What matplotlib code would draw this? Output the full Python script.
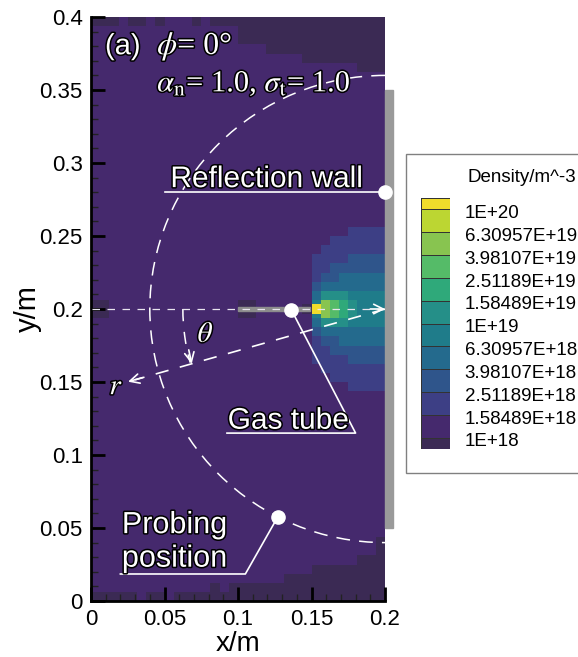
import numpy as np
import matplotlib
matplotlib.use('Agg')
import matplotlib.pyplot as plt
import matplotlib.patheffects as pe
from matplotlib.colors import ListedColormap, BoundaryNorm
from matplotlib.patches import Arc, Rectangle

plt.rcParams['font.family'] = ['Liberation Sans', 'DejaVu Sans']
plt.rcParams['mathtext.fontset'] = 'stix'

# density level of each cell, top row first (0 = lowest band, b = highest band)
density_rows = [
    "00010010111010000000000000000000",
    "11111111111111110000000000000000",
    "11111111111111110000000000000000",
    "11111111111111111110000000000000",
    "11111111111111111111111000000000",
    "11111111111111111111111111111000",
    *["11111111111111111111111111111111"] * 17,
    "11111111111111111111111111112222",
    "11111111111111111111111111222222",
    "11111111111111111111111112222222",
    "11111111111111111111111122223333",
    "11111111111111111111111122333333",
    "11111111111111111111111123344444",
    "11111111111111111111111134444444",
    "11111111111111111111111146665555",
    "00111111111111110011111159876555",
    "00111111111111110011111159876555",
    "11111111111111111111111146665555",
    "11111111111111111111111134444444",
    "11111111111111111111111123344444",
    "11111111111111111111111122333333",
    "11111111111111111111111122223333",
    "11111111111111111111111112222222",
    "11111111111111111111111111222222",
    "11111111111111111111111111112222",
    *["11111111111111111111111111111111"] * 16,
    "11111111111111111111111111111110",
    "11111111111111111111111111111110",
    "11111111111111111111111111111000",
    "11111111111111111111111100000000",
    "11111111111111111111100000000000",
    "11111111111110100000000000000000",
    "00000100100000000000000000000000",
]

# finer row at the tube exit, centred on y = 0.2
tube_row_x = [0.14375, 0.15, 0.15625]
tube_row_levels = [0, 11]

band_colors = ['#3b2a54', '#45296d', '#3d3f85', '#2f558b', '#246a8d', '#1f7c8a',
               '#258f88', '#2fa97a', '#55bb68', '#88c450', '#bcd632', '#f0dc2b']
legend_labels = ['1E+18', '1.58489E+18', '2.51189E+18', '3.98107E+18', '6.30957E+18', '1E+19',
                 '1.58489E+19', '2.51189E+19', '3.98107E+19', '6.30957E+19', '1E+20']

x_ticks = [0, 0.05, 0.1, 0.15, 0.2]
x_tick_labels = ['0', '0.05', '0.1', '0.15', '0.2']
y_ticks = [0, 0.05, 0.1, 0.15, 0.2, 0.25, 0.3, 0.35, 0.4]
y_tick_labels = ['0', '0.05', '0.1', '0.15', '0.2', '0.25', '0.3', '0.35', '0.4']

W, H = 578, 657
fig = plt.figure(figsize=(W / 100, H / 100), dpi=100)
ax = fig.add_axes([91 / W, 1 - 601 / H, 294 / W, 584 / H])

cmap = ListedColormap(band_colors)
norm = BoundaryNorm(np.arange(13) - 0.5, 12)

grid = np.array([[int(c, 16) for c in row] for row in density_rows[::-1]])
x_edges = np.linspace(0, 0.2, grid.shape[1] + 1)
y_edges = np.linspace(0, 0.4, grid.shape[0] + 1)
ax.pcolormesh(x_edges, y_edges, grid, cmap=cmap, norm=norm)
ax.pcolormesh(tube_row_x, [0.1969, 0.2031], [tube_row_levels], cmap=cmap, norm=norm)

ax.set_xlim(0, 0.2)
ax.set_ylim(0, 0.4)
ax.set_xticks(x_ticks, x_tick_labels, fontsize=16)
ax.set_yticks(y_ticks, y_tick_labels, fontsize=16)
ax.set_xticks(np.arange(0, 0.2001, 0.01), minor=True)
ax.set_yticks(np.arange(0, 0.4001, 0.01), minor=True)
ax.tick_params(which='major', direction='in', length=10, width=2, pad=6, color='black')
ax.tick_params(which='minor', direction='in', length=5, width=1, color='#222222')
ax.tick_params(axis='x', which='major', pad=6)
ax.set_xlabel('x/m', fontsize=20, labelpad=0.5)
ax.set_ylabel('y/m', fontsize=21, labelpad=-2)
for side in ['top', 'right']:
    ax.spines[side].set_visible(False)
for side in ['left', 'bottom']:
    ax.spines[side].set_linewidth(2)

# wall and tube
ax.add_patch(Rectangle((0.2, 0.05), 0.0054, 0.3, color='#9a9a9a', clip_on=False, zorder=3))
ax.add_patch(Rectangle((0.1, 0.1985), 0.049, 0.003, color='#8c8c8c', zorder=3))

white = 'white'
# dashed guides
ax.add_patch(Arc((0.2, 0.2), 0.32, 0.32, theta1=90, theta2=270, color=white, lw=1.1,
                 linestyle=(0, (9, 6)), zorder=4))
ax.add_patch(Arc((0.2, 0.2), 0.275, 0.275, theta1=180, theta2=195.5, color=white, lw=1.1,
                 linestyle=(0, (8, 7)), zorder=4))
ax.plot([0.001, 0.2], [0.2, 0.2], color='#e8e4ee', lw=0.9, linestyle=(0, (6, 6)), zorder=4)
ax.plot([0.2, 0.03], [0.2, 0.1515], color=white, lw=1.2, linestyle=(0, (8, 7)), zorder=4)

head = dict(arrowstyle='->', color=white, lw=1.2, mutation_scale=17, shrinkA=0, shrinkB=0)
ax.annotate('', xy=(0.2, 0.2), xytext=(0.19, 0.2), arrowprops=head, zorder=5)
ax.annotate('', xy=(0.0252, 0.1502), xytext=(0.035, 0.153), arrowprops=head, zorder=5)
ax.annotate('', xy=(0.0685, 0.1625), xytext=(0.0665, 0.172), arrowprops=head, zorder=5)

# callouts
ax.plot([0.05, 0.2], [0.28, 0.28], color=white, lw=1.2, zorder=5, clip_on=False)
ax.plot([0.0925, 0.18, 0.136], [0.115, 0.115, 0.2], color=white, lw=1.2, zorder=5)
ax.plot([0.02, 0.105, 0.127], [0.0185, 0.0185, 0.0575], color=white, lw=1.2, zorder=5)
ax.plot([0.2, 0.136, 0.127], [0.28, 0.1993, 0.0575], linestyle='none', marker='o', ms=9.5,
        color=white, zorder=6, clip_on=False)

outline = [pe.withStroke(linewidth=2.2, foreground='black')]


def label(x, y, text, size, **kw):
    ax.text(x, y, text, fontsize=size, color=white, path_effects=outline, zorder=7, **kw)


label(0.054, 0.2835, 'Reflection wall', 21.5)
label(0.093, 0.118, 'Gas tube', 21.5)
label(0.021, 0.0465, 'Probing', 22)
label(0.021, 0.0235, 'position', 22)
label(0.0095, 0.3745, '(a)', 21)
label(0.045, 0.3745, r'$\phi$= 0°', 23, family='Liberation Serif')
label(0.045, 0.349, r'$\alpha_{\rm n}$= 1.0, $\sigma_{\rm t}$= 1.0', 22, family='Liberation Serif')
label(0.0725, 0.1775, r'$\theta$', 21, family='Liberation Serif')
label(0.0125, 0.1415, r'$r$', 21, family='Liberation Serif')

# contour legend box, running off the right edge
fig.add_artist(Rectangle((406 / W, 1 - 473 / H), 200 / W, 319 / H, transform=fig.transFigure,
                         facecolor='white', edgecolor='#808080', lw=1, zorder=1))
bar = fig.add_axes([421 / W, 1 - 449 / H, 29 / W, 251 / H], zorder=2)
bar_edges = [0, 0.5, 1.5, 2.5, 3.5, 4.5, 5.5, 6.5, 7.5, 8.5, 9.5, 10.5, 11]
bar.pcolormesh([0, 1], bar_edges, np.arange(12).reshape(-1, 1), cmap=cmap, norm=norm,
               edgecolors='#333333', linewidth=0.4)
bar.set_xlim(0, 1)
bar.set_ylim(0, 11)
bar.set_xticks([])
bar.yaxis.tick_right()
bar.set_yticks(np.arange(0.4, 10.9, 1), legend_labels, fontsize=13.5)
bar.tick_params(axis='y', length=0, pad=10.5)
for spine in bar.spines.values():
    spine.set_visible(False)
fig.text(467 / W, 1 - 177 / H, 'Density/m^-3', fontsize=13.5, va='center', zorder=3)

fig.savefig('out.png', dpi=100)
